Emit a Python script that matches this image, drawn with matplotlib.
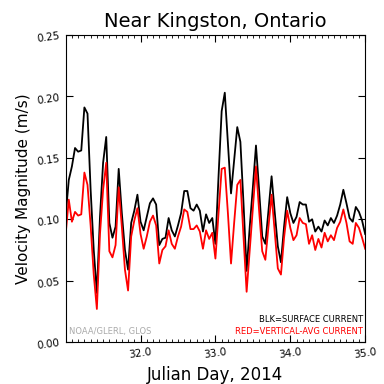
"""
Vitesse du courant pres de Kingston (Ontario), jours juliens 31-35 2014.
Courant de surface (noir) et courant moyenne verticale (rouge).
"""
import matplotlib
matplotlib.use("Agg")
import matplotlib.pyplot as plt
import numpy as np
from matplotlib.ticker import FormatStrFormatter, MultipleLocator

# pas horaire, jour julien 31.0 -> 35.0
START_DAY = 31.0
hours = np.arange(97)
day_ticks = [32.0, 33.0, 34.0, 35.0]

surface = [
    0.103, 0.132, 0.143, 0.158, 0.155, 0.156, 0.191, 0.186, 0.124, 0.075,
    0.040, 0.102, 0.146, 0.167, 0.097, 0.085, 0.094, 0.141, 0.105, 0.075,
    0.059, 0.097, 0.107, 0.120, 0.098, 0.091, 0.102, 0.113, 0.117, 0.112,
    0.079, 0.084, 0.085, 0.101, 0.091, 0.086, 0.095, 0.105, 0.123, 0.123,
    0.109, 0.107, 0.112, 0.107, 0.090, 0.104, 0.097, 0.101, 0.080, 0.135,
    0.188, 0.203, 0.162, 0.121, 0.148, 0.175, 0.163, 0.113, 0.058, 0.094,
    0.126, 0.160, 0.124, 0.086, 0.080, 0.107, 0.135, 0.106, 0.078, 0.065,
    0.094, 0.118, 0.105, 0.097, 0.102, 0.114, 0.112, 0.112, 0.098, 0.100,
    0.090, 0.094, 0.090, 0.099, 0.095, 0.101, 0.097, 0.103, 0.112, 0.124,
    0.113, 0.101, 0.098, 0.110, 0.106, 0.099, 0.088,
]

vertical_avg = [
    0.088, 0.116, 0.098, 0.106, 0.103, 0.104, 0.138, 0.128, 0.095, 0.055,
    0.027, 0.088, 0.124, 0.146, 0.074, 0.069, 0.079, 0.126, 0.094, 0.059,
    0.042, 0.086, 0.099, 0.109, 0.088, 0.076, 0.086, 0.098, 0.103, 0.095,
    0.064, 0.075, 0.078, 0.091, 0.080, 0.076, 0.086, 0.094, 0.108, 0.106,
    0.092, 0.092, 0.095, 0.090, 0.076, 0.091, 0.084, 0.089, 0.068, 0.105,
    0.141, 0.142, 0.105, 0.064, 0.097, 0.128, 0.132, 0.086, 0.041, 0.075,
    0.109, 0.143, 0.107, 0.074, 0.067, 0.094, 0.120, 0.090, 0.060, 0.055,
    0.085, 0.107, 0.093, 0.083, 0.087, 0.101, 0.097, 0.096, 0.080, 0.087,
    0.075, 0.084, 0.077, 0.089, 0.082, 0.087, 0.083, 0.093, 0.098, 0.108,
    0.097, 0.082, 0.080, 0.097, 0.093, 0.085, 0.076,
]

day = START_DAY + hours / 24.0

fig = plt.figure(figsize=(3.84, 3.84), dpi=100)
ax = fig.add_axes([0.171, 0.109, 0.780, 0.800])

ax.plot(day, surface, color="black", lw=1.3)
ax.plot(day, vertical_avg, color="red", lw=1.3)

ax.set_xlim(31.0, 35.0)
ax.set_ylim(0.0, 0.25)
ax.set_xticks(day_ticks)
ax.xaxis.set_minor_locator(MultipleLocator(1.0 / 12))
ax.yaxis.set_major_locator(MultipleLocator(0.05))
ax.xaxis.set_major_formatter(FormatStrFormatter("%.1f"))
ax.yaxis.set_major_formatter(FormatStrFormatter("%.2f"))
ax.tick_params(which="both", direction="in", top=True, right=True)
ax.tick_params(which="major", length=5, labelsize=7.5)
ax.tick_params(which="minor", length=2.5)
for lab in ax.get_xticklabels() + ax.get_yticklabels():
    lab.set_rotation(8)

ax.set_title("Near Kingston, Ontario", fontsize=14)
ax.set_xlabel("Julian Day, 2014", fontsize=12)
ax.set_ylabel("Velocity Magnitude (m/s)", fontsize=11)

ax.text(0.012, 0.035, "NOAA/GLERL, GLOS", transform=ax.transAxes,
        fontsize=6, color="#aaaaaa", ha="left", va="center")
ax.text(0.993, 0.075, "BLK=SURFACE CURRENT", transform=ax.transAxes,
        fontsize=6, color="black", ha="right", va="center")
ax.text(0.993, 0.035, "RED=VERTICAL-AVG CURRENT", transform=ax.transAxes,
        fontsize=6, color="red", ha="right", va="center")

fig.savefig("out.png", dpi=100)
